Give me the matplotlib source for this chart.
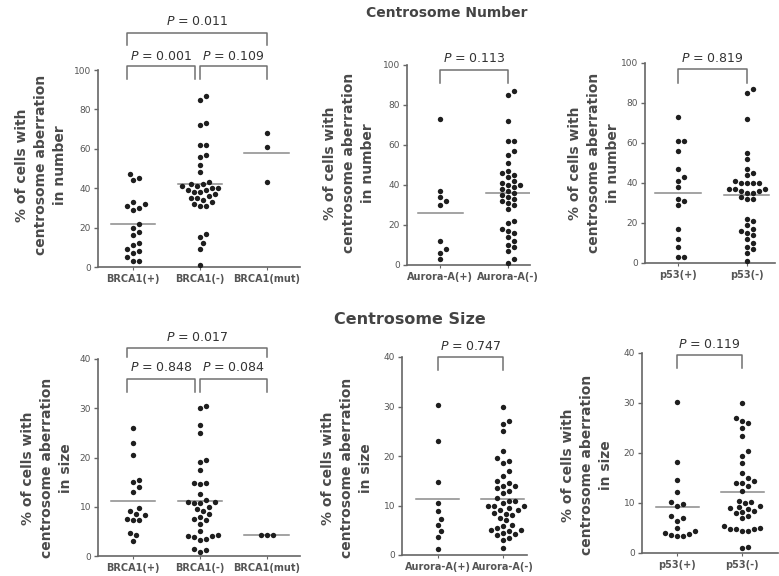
import numpy as np
import matplotlib
matplotlib.use("Agg")
import matplotlib.pyplot as plt

# values (% of cells with centrosome aberration)
num_brca_pos = [47, 45, 44, 33, 32, 31, 30, 29, 22, 20, 18, 16, 12, 11, 9, 8, 7, 5, 3, 3]
num_brca_neg = [87, 85, 73, 72, 62, 62, 57, 56, 52, 48, 43, 42, 42, 41, 41, 40, 40, 39, 39, 38,
                38, 37, 36, 35, 35, 34, 33, 32, 31, 31, 17, 15, 12, 9, 1]
num_brca_mut = [68, 61, 43]
num_brca_line = [22, 42, 58]

num_aur_pos = [73, 37, 34, 32, 30, 12, 8, 6, 3]
num_aur_neg = [87, 85, 72, 62, 62, 57, 55, 51, 47, 46, 45, 44, 42, 41, 40, 40, 39, 38, 37, 36,
               35, 34, 33, 32, 31, 30, 28, 22, 21, 18, 17, 16, 14, 12, 10, 9, 7, 3, 1]
num_aur_line = [26, 36]

num_p53_pos = [73, 61, 61, 56, 47, 43, 41, 38, 32, 31, 29, 17, 12, 8, 3, 3]
num_p53_neg = [87, 85, 72, 55, 52, 47, 45, 44, 41, 40, 40, 40, 40, 37, 37, 37, 36, 36, 35, 35,
               33, 32, 32, 22, 21, 19, 17, 16, 15, 14, 12, 10, 8, 7, 5, 1]
num_p53_line = [35, 34]

size_brca_pos = [26, 23, 20.5, 15.5, 15, 14, 13, 9.7, 9.2, 8.5, 8.3, 7.5, 7.4, 7.3, 4.6, 4.2, 3.1]
size_brca_neg = [30.5, 30, 26.5, 25, 19.5, 19, 17.5, 14.9, 14.8, 14.7, 12.5, 11.3, 11, 11, 10.8,
                 10.7, 10, 9.5, 9.2, 8.5, 8, 7.5, 7.3, 6.5, 5, 4.3, 4.1, 4, 3.9, 3.5, 3.2, 1.5, 1.2, 0.8]
size_brca_mut = [4.3, 4.2, 4.2]
size_brca_line = [11.2, 11.2, 4.2]

size_aur_pos = [30.4, 23, 14.8, 10.6, 8.8, 7.2, 6, 4.8, 3.7, 1.3]
size_aur_neg = [30, 27, 26.5, 25, 21, 19.5, 19, 18.5, 17, 16, 15, 14.5, 14, 14, 13.5, 13, 12.5,
                11.5, 11, 11, 10.5, 10, 10, 10, 9.5, 9, 9, 8.5, 8.3, 8, 7.5, 7, 6, 5.8, 5.5, 5,
                5, 4.8, 4.5, 4.2, 4, 3.5, 3, 1.5]
size_aur_line = [11.4, 11.3]

size_p53_pos = [30.3, 18.2, 14.7, 12.3, 10.3, 9.9, 9.5, 7.5, 7, 6.5, 5, 4.5, 4, 3.8, 3.6, 3.5, 3.4]
size_p53_neg = [30, 27, 26.5, 26, 25, 23.5, 20.5, 19.5, 18, 16, 15, 14.5, 14, 14, 13.5, 12.5,
                10.5, 10.3, 10, 9.5, 9.3, 9, 8.8, 8.5, 8.2, 8, 7.5, 7, 5.5, 5, 4.8, 4.8, 4.8,
                4.5, 4.5, 1.3, 1.0]
size_p53_line = [9.3, 12.3]

brca_labels = ["BRCA1(+)", "BRCA1(-)", "BRCA1(mut)"]
aur_labels = ["Aurora-A(+)", "Aurora-A(-)"]
p53_labels = ["p53(+)", "p53(-)"]

W, H = 779, 576
AX_C = "#666666"
TXT_C = "#333333"
DOT_C = "#1e1e1e"

fig = plt.figure(figsize=(W / 100, H / 100), dpi=100)


def swarm(vals, xppu, yppu, d=6.0):
    # simple beeswarm: horizontal offsets in data units
    order = np.argsort(vals)
    placed = []
    offs = np.zeros(len(vals))
    for i in order:
        y = vals[i] * yppu
        k = 0
        while True:
            cands = [0] if k == 0 else [k * d * 0.5, -k * d * 0.5]
            ok = None
            for c in cands:
                if all((c - px) ** 2 + (y - py) ** 2 >= d * d for px, py in placed):
                    ok = c
                    break
            if ok is not None:
                break
            k += 1
        placed.append((ok, y))
        offs[i] = ok / xppu
    return offs


def panel(left, right, top, bottom, cats, groups, means, ymax, xlim, labels):
    ax = fig.add_axes([left / W, 1 - bottom / H, (right - left) / W, (bottom - top) / H])
    xppu = (right - left) / (xlim[1] - xlim[0])
    yppu = (bottom - top) / ymax
    for i, g in enumerate(groups):
        g = np.array(g, dtype=float)
        off = swarm(g, xppu, yppu)
        ax.scatter(cats[i] + off, g, s=15, color=DOT_C, zorder=3, linewidths=0, clip_on=False)
        ax.plot([cats[i] - 0.33, cats[i] + 0.33], [means[i], means[i]], color="#8a8a8a", lw=1.1, zorder=2)
    ax.set_xlim(*xlim)
    ax.set_ylim(0, ymax)
    ax.set_xticks(cats)
    ax.set_xticklabels(labels, fontsize=7, fontweight="bold", color="#555555")
    ax.set_yticks(np.linspace(0, ymax, 6 if ymax == 100 else 5))
    ax.tick_params(axis="y", labelsize=6.5, colors=AX_C, length=3, width=1, pad=2, labelcolor="#555555")
    ax.tick_params(axis="x", length=2, width=0.8, colors=AX_C, pad=3, labelcolor="#555555")
    for s in ["top", "right"]:
        ax.spines[s].set_visible(False)
    for s in ["left", "bottom"]:
        ax.spines[s].set_color(AX_C)
        ax.spines[s].set_linewidth(1.2)
    ax.set_facecolor("none")
    return ax


def bracket(ax, x0, x1, ytop, ybot, text, ytext):
    ax.plot([x0, x0, x1, x1], [ybot, ytop, ytop, ybot], color="#707070", lw=1.1, clip_on=False)
    ax.text((x0 + x1) / 2, ytext, r"$\it{P}$ = " + text, ha="center", va="center",
            fontsize=9, color=TXT_C)


def ylab(x, y, text):
    fig.text(x / W, 1 - y / H, text, rotation=90, ha="center", va="center",
             fontsize=10, fontweight="bold", color="#4a4a4a", multialignment="center", linespacing=1.45)


num_lab = "% of cells with\ncentrosome aberration\nin number"
size_lab = "% of cells with\ncentrosome aberration\nin size"

# Centrosome Number row
ax1 = panel(98, 300, 70, 267, [0, 1, 2], [num_brca_pos, num_brca_neg, num_brca_mut],
            num_brca_line, 100, (-0.52, 2.5), brca_labels)
bracket(ax1, -0.09, 0.93, 102, 95.5, "0.001", 107)
bracket(ax1, 1.01, 2.01, 102, 95.5, "0.109", 107)
bracket(ax1, -0.09, 2.01, 119, 112.7, "0.011", 124.5)
ylab(41, 165, num_lab)

ax2 = panel(407, 530, 65, 265, [0, 1], [num_aur_pos, num_aur_neg], num_aur_line, 100,
            (-0.49, 1.32), aur_labels)
bracket(ax2, 0, 1, 97.5, 91, "0.113", 103)
ylab(349, 163, num_lab)

ax3 = panel(645, 775, 63, 263, [0, 1], [num_p53_pos, num_p53_neg], num_p53_line, 100,
            (-0.48, 1.41), p53_labels)
bracket(ax3, 0, 1, 97, 90, "0.819", 102.5)
ylab(594, 163, num_lab)

# Centrosome Size row
ax4 = panel(98, 300, 359, 556, [0, 1, 2], [size_brca_pos, size_brca_neg, size_brca_mut],
            size_brca_line, 40, (-0.52, 2.5), brca_labels)
bracket(ax4, -0.09, 0.93, 35.9, 33.3, "0.848", 38.2)
bracket(ax4, 1.01, 2.01, 35.9, 33.3, "0.084", 38.2)
bracket(ax4, -0.09, 2.01, 42.2, 40.4, "0.017", 44.3)
ylab(47, 468, size_lab)

ax5 = panel(402, 527, 357, 555, [0, 1], [size_aur_pos, size_aur_neg], size_aur_line, 40,
            (-0.55, 1.37), aur_labels)
bracket(ax5, 0, 1, 40, 37.4, "0.747", 42.2)
ylab(347, 468, size_lab)

ax6 = panel(642, 778, 353, 553, [0, 1], [size_p53_pos, size_p53_neg], size_p53_line, 40,
            (-0.54, 1.55), p53_labels)
bracket(ax6, 0, 1, 39.6, 37, "0.119", 41.6)
ylab(587, 465, size_lab)

fig.text(447 / W, 1 - 13 / H, "Centrosome Number", ha="center", va="center",
         fontsize=10, fontweight="bold", color="#444444")
fig.text(410 / W, 1 - 319 / H, "Centrosome Size", ha="center", va="center",
         fontsize=11.5, fontweight="bold", color="#444444")

fig.savefig("out.png", dpi=100)
